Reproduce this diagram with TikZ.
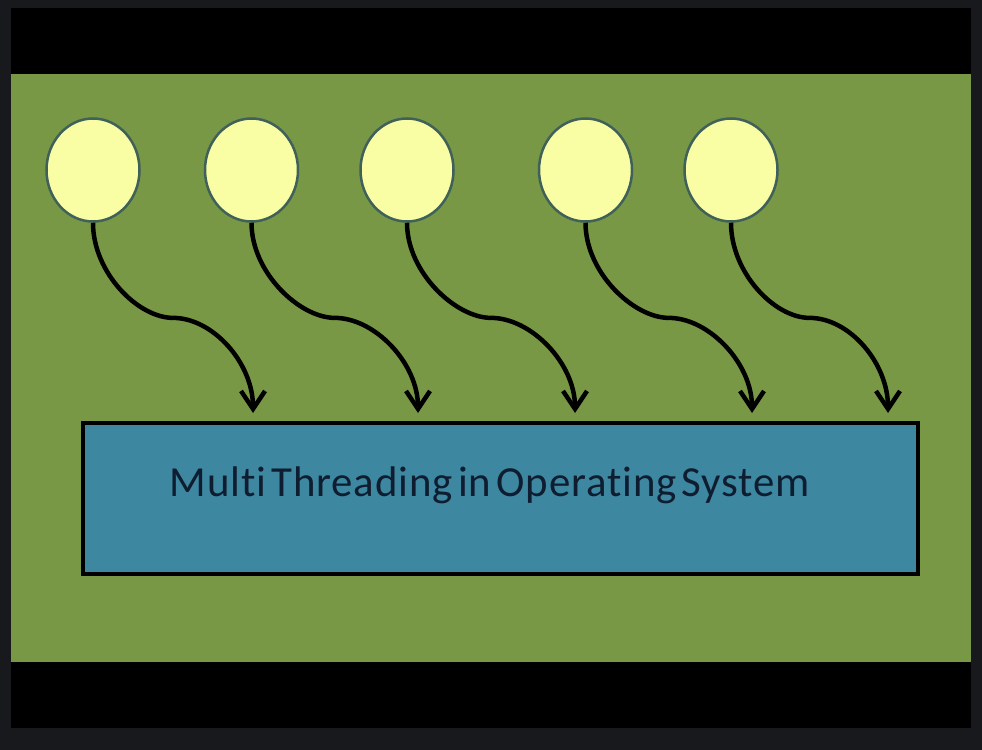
\documentclass[tikz,border=0pt]{standalone}
\usepackage{fontspec}
\setmainfont{Carlito}
\newfontfamily\oslabelfont{Carlito}[LetterSpace=2.0, WordSpace=0.5, Ligatures=NoCommon]
\usetikzlibrary{shapes.geometric, arrows.meta, positioning, calc}
\definecolor{framegray}{RGB}{24,25,29}
\definecolor{slidegreen}{RGB}{120,152,70}
\definecolor{osblue}{RGB}{61,135,160}
\definecolor{threadyellow}{RGB}{249,253,163}
\definecolor{threadedge}{RGB}{64,96,90}
\definecolor{labelnavy}{RGB}{15,29,48}
\tikzstyle{thread} = [ellipse, draw=threadedge, line width=2.5bp, fill=threadyellow, minimum width=93bp, minimum height=103bp, inner sep=0pt]
\tikzstyle{osbox} = [rectangle, draw=black, line width=4bp, fill=osblue, minimum width=835bp, minimum height=151bp]
\tikzstyle{ostext} = [anchor=base, inner sep=0pt, text=labelnavy, font=\oslabelfont\fontsize{43}{50}\selectfont]
\tikzstyle{call} = [line width=4.5bp, -{Straight Barb[length=18bp, width=24bp, line width=4.5bp]}, black]

\begin{document}
\begin{tikzpicture}[x=1bp, y=-1bp]

	% Frame and slide
	\useasboundingbox (0,0) rectangle (982,750);
	\fill[framegray] (0,0) rectangle (982,750);
	\fill[black] (11,8) rectangle (971,728);
	\fill[slidegreen] (11,74) rectangle (971,662);

	% Threads
	\node (th1) [thread] at (93,170) {};
	\node (th2) [thread, right=63bp of th1] {};
	\node (th3) [thread, right=60bp of th2] {};
	\node (th4) [thread, right=83bp of th3] {};
	\node (th5) [thread, right=50bp of th4] {};

	% Operating system
	\node (os) [osbox] at (500.5,498) {};
	\node (oslabel) [ostext] at (490,496) {Multi Threading in Operating System};

	% Arrow ends
	\coordinate (tip1) at (253,413);
	\coordinate (tip2) at (418,413);
	\coordinate (tip3) at (575,413);
	\coordinate (tip4) at (752,413);
	\coordinate (tip5) at (888,413);

	% Arrows - threads
	\draw[call] (th1.south) .. controls +(0,50) and +(-35,0) .. ($(th1.south)!0.5!(tip1)$) .. controls +(40,0) and +(0,-50) .. (tip1);
	\draw[call] (th2.south) .. controls +(0,50) and +(-35,0) .. ($(th2.south)!0.5!(tip2)$) .. controls +(40,0) and +(0,-50) .. (tip2);
	\draw[call] (th3.south) .. controls +(0,50) and +(-35,0) .. ($(th3.south)!0.5!(tip3)$) .. controls +(40,0) and +(0,-50) .. (tip3);
	\draw[call] (th4.south) .. controls +(0,50) and +(-35,0) .. ($(th4.south)!0.5!(tip4)$) .. controls +(40,0) and +(0,-50) .. (tip4);
	\draw[call] (th5.south) .. controls +(0,50) and +(-35,0) .. ($(th5.south)!0.5!(tip5)$) .. controls +(40,0) and +(0,-50) .. (tip5);

\end{tikzpicture}
\end{document}
